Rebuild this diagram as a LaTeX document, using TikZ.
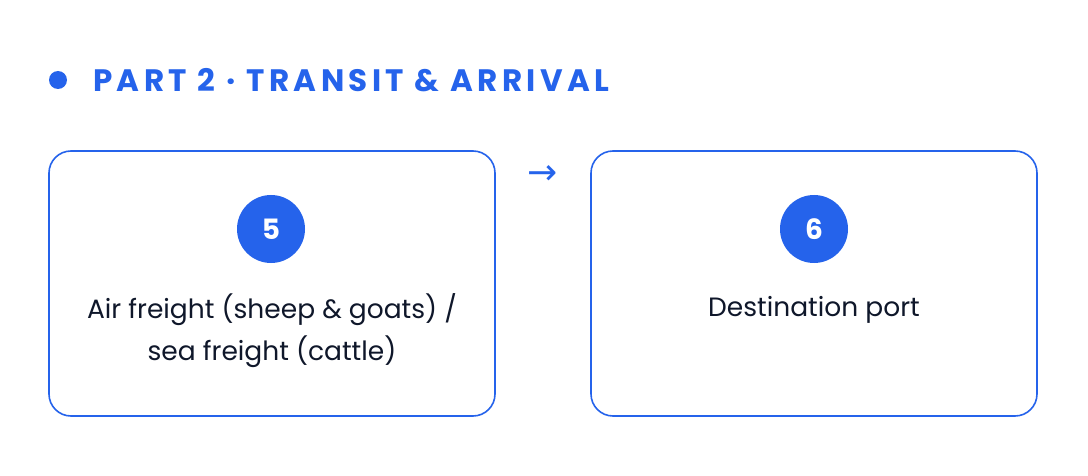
\documentclass[tikz,border=0pt]{standalone}
\usepackage{fontspec}
\setmainfont{Poppins}
\newfontfamily\titlefont[LetterSpace=14]{Poppins}
\newfontfamily\arrowfont{DejaVu Sans}
\definecolor{accent}{HTML}{2563EB}
\definecolor{ink}{HTML}{0F172A}
\tikzset{
  card/.style={draw=accent, line width=1.6pt, rounded corners=22pt, fill=white},
  badge/.style={circle, fill=accent, minimum size=68pt, inner sep=0pt, text=white, font=\fontsize{28}{28}\selectfont\bfseries},
  label/.style={text=ink, align=center, font=\fontsize{26.5}{42}\selectfont},
}
\begin{document}
\begin{tikzpicture}[x=1pt,y=-1pt]
\useasboundingbox (0,0) rectangle (1088,476);
\fill[accent] (58,80) circle (9) coordinate (dot);
\node[anchor=west, text=accent, inner sep=0pt, font=\titlefont\fontsize{31}{31}\selectfont\bfseries] (title) at (93,80) {PART 2 · TRANSIT \& ARRIVAL};
\draw[card] (49,151) rectangle (495,416);
\draw[card] (591,151) rectangle (1037,416);
\node[badge] (b5) at (271,229) {5};
\node[badge] (b6) at (814,229) {6};
\node[label] (t5) at (272,331) {Air freight (sheep \& goats) /\\sea freight (cattle)};
\node[label] (t6) at (814,310) {Destination port};
\node[text=accent, inner sep=0pt, font=\arrowfont\fontsize{36}{36}\selectfont] (arr) at (543,175) {→};
\end{tikzpicture}
\end{document}
